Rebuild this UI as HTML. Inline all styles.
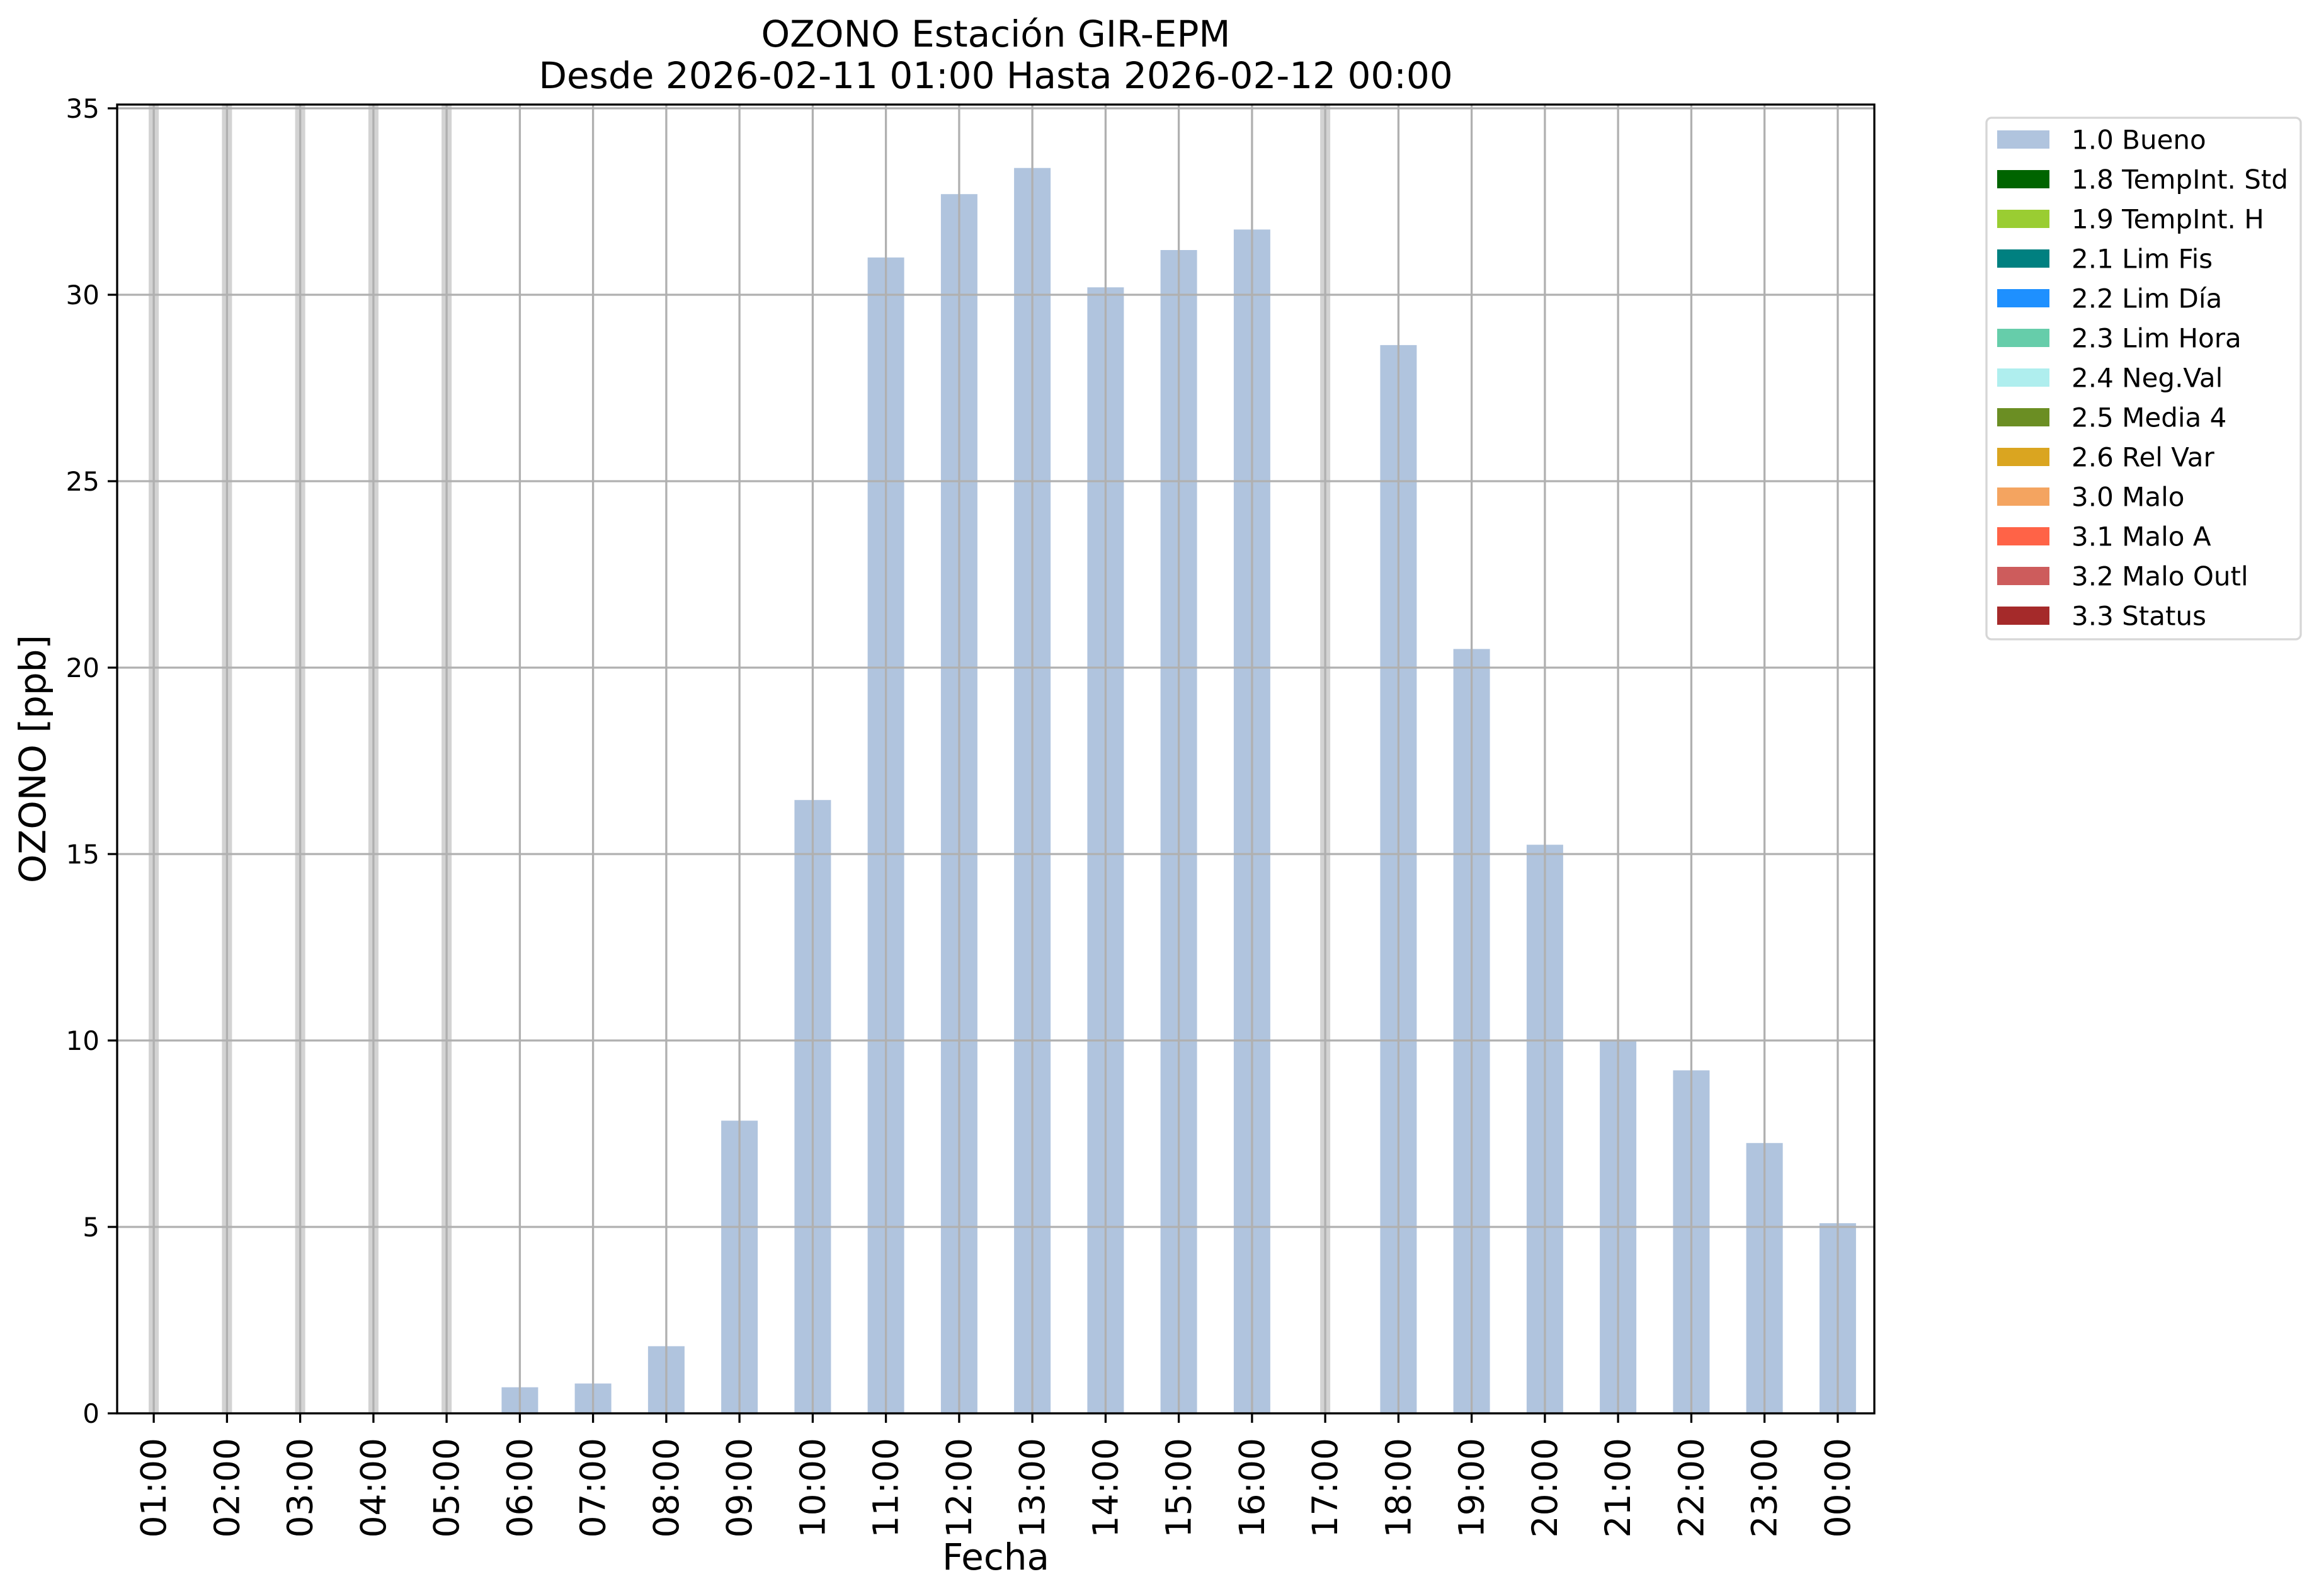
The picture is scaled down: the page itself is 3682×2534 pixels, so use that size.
<!DOCTYPE html>
<html><head><meta charset="utf-8"><style>html,body{margin:0;padding:0;background:#fff}svg{display:block}text{font-family:"DejaVu Sans","Liberation Sans",sans-serif;fill:#000}</style></head><body>
<svg width="3682" height="2534" viewBox="0 0 3682 2534" xmlns="http://www.w3.org/2000/svg">
<rect width="3682" height="2534" fill="#fff"/>
<text x="1581" y="74" font-size="58" text-anchor="middle">OZONO Estación GIR-EPM</text>
<text x="1581" y="140" font-size="58" text-anchor="middle">Desde 2026-02-11 01:00 Hasta 2026-02-12 00:00</text>
<g fill="#d3d3d3">
<rect x="236.1" y="166" width="16" height="2078"/>
<rect x="352.4" y="166" width="16" height="2078"/>
<rect x="468.6" y="166" width="16" height="2078"/>
<rect x="584.9" y="166" width="16" height="2078"/>
<rect x="701.1" y="166" width="16" height="2078"/>
<rect x="2096.1" y="166" width="16" height="2078"/>
</g>
<g fill="#b0c4de">
<rect x="796.4" y="2202.6" width="58" height="41.4"/>
<rect x="912.6" y="2196.6" width="58" height="47.4"/>
<rect x="1028.9" y="2137.4" width="58" height="106.6"/>
<rect x="1145.1" y="1779.3" width="58" height="464.7"/>
<rect x="1261.4" y="1270.2" width="58" height="973.8"/>
<rect x="1377.6" y="408.8" width="58" height="1835.2"/>
<rect x="1493.9" y="308.2" width="58" height="1935.8"/>
<rect x="1610.1" y="266.7" width="58" height="1977.3"/>
<rect x="1726.4" y="456.2" width="58" height="1787.8"/>
<rect x="1842.6" y="397.0" width="58" height="1847.0"/>
<rect x="1958.9" y="364.4" width="58" height="1879.6"/>
<rect x="2191.4" y="547.9" width="58" height="1696.1"/>
<rect x="2307.6" y="1030.4" width="58" height="1213.6"/>
<rect x="2423.9" y="1341.2" width="58" height="902.8"/>
<rect x="2540.1" y="1652.0" width="58" height="592.0"/>
<rect x="2656.4" y="1699.4" width="58" height="544.6"/>
<rect x="2772.6" y="1814.8" width="58" height="429.2"/>
<rect x="2888.9" y="1942.1" width="58" height="301.9"/>
</g>
<path stroke="#b0b0b0" stroke-width="3.3" fill="none" d="M186 2244H2976M186 1948H2976M186 1652H2976M186 1356H2976M186 1060H2976M186 764H2976M186 468H2976M186 172H2976
M244.1 166V2244M360.4 166V2244M476.6 166V2244M592.9 166V2244M709.1 166V2244M825.4 166V2244M941.6 166V2244M1057.9 166V2244M1174.1 166V2244M1290.4 166V2244M1406.6 166V2244M1522.9 166V2244M1639.1 166V2244M1755.4 166V2244M1871.6 166V2244M1987.9 166V2244M2104.1 166V2244M2220.4 166V2244M2336.6 166V2244M2452.9 166V2244M2569.1 166V2244M2685.4 166V2244M2801.6 166V2244M2917.9 166V2244"/>
<path stroke="#000" stroke-width="3.3" fill="none" d="M171 2244H186M171 1948H186M171 1652H186M171 1356H186M171 1060H186M171 764H186M171 468H186M171 172H186
M244.1 2244v15M360.4 2244v15M476.6 2244v15M592.9 2244v15M709.1 2244v15M825.4 2244v15M941.6 2244v15M1057.9 2244v15M1174.1 2244v15M1290.4 2244v15M1406.6 2244v15M1522.9 2244v15M1639.1 2244v15M1755.4 2244v15M1871.6 2244v15M1987.9 2244v15M2104.1 2244v15M2220.4 2244v15M2336.6 2244v15M2452.9 2244v15M2569.1 2244v15M2685.4 2244v15M2801.6 2244v15M2917.9 2244v15"/>
<rect x="186" y="166" width="2790" height="2078" fill="none" stroke="#000" stroke-width="3.3"/>
<g font-size="42" text-anchor="end">
<text x="158" y="2259">0</text><text x="158" y="1963">5</text><text x="158" y="1667">10</text><text x="158" y="1371">15</text><text x="158" y="1075">20</text><text x="158" y="779">25</text><text x="158" y="483">30</text><text x="158" y="187">35</text>
</g>
<g font-size="55" text-anchor="end">
<text transform="translate(263.1,2283) rotate(-90)">01:00</text>
<text transform="translate(379.4,2283) rotate(-90)">02:00</text>
<text transform="translate(495.6,2283) rotate(-90)">03:00</text>
<text transform="translate(611.9,2283) rotate(-90)">04:00</text>
<text transform="translate(728.1,2283) rotate(-90)">05:00</text>
<text transform="translate(844.4,2283) rotate(-90)">06:00</text>
<text transform="translate(960.6,2283) rotate(-90)">07:00</text>
<text transform="translate(1076.9,2283) rotate(-90)">08:00</text>
<text transform="translate(1193.1,2283) rotate(-90)">09:00</text>
<text transform="translate(1309.4,2283) rotate(-90)">10:00</text>
<text transform="translate(1425.6,2283) rotate(-90)">11:00</text>
<text transform="translate(1541.9,2283) rotate(-90)">12:00</text>
<text transform="translate(1658.1,2283) rotate(-90)">13:00</text>
<text transform="translate(1774.4,2283) rotate(-90)">14:00</text>
<text transform="translate(1890.6,2283) rotate(-90)">15:00</text>
<text transform="translate(2006.9,2283) rotate(-90)">16:00</text>
<text transform="translate(2123.1,2283) rotate(-90)">17:00</text>
<text transform="translate(2239.4,2283) rotate(-90)">18:00</text>
<text transform="translate(2355.6,2283) rotate(-90)">19:00</text>
<text transform="translate(2471.9,2283) rotate(-90)">20:00</text>
<text transform="translate(2588.1,2283) rotate(-90)">21:00</text>
<text transform="translate(2704.4,2283) rotate(-90)">22:00</text>
<text transform="translate(2820.6,2283) rotate(-90)">23:00</text>
<text transform="translate(2936.9,2283) rotate(-90)">00:00</text>
</g>
<text x="1581" y="2492" font-size="58" text-anchor="middle">Fecha</text>
<text transform="translate(72,1205) rotate(-90)" font-size="58" text-anchor="middle">OZONO [ppb]</text>
<rect x="3154" y="187" width="499" height="828" rx="8" fill="#fff" stroke="#d6d6d6" stroke-width="3.3"/>
<rect x="3171" y="207" width="83" height="29" fill="#b0c4de"/>
<rect x="3171" y="270" width="83" height="29" fill="#006400"/>
<rect x="3171" y="333" width="83" height="29" fill="#9acd32"/>
<rect x="3171" y="396" width="83" height="29" fill="#008080"/>
<rect x="3171" y="459" width="83" height="29" fill="#1e90ff"/>
<rect x="3171" y="522" width="83" height="29" fill="#66cdaa"/>
<rect x="3171" y="585" width="83" height="29" fill="#afeeee"/>
<rect x="3171" y="648" width="83" height="29" fill="#6b8e23"/>
<rect x="3171" y="711" width="83" height="29" fill="#daa520"/>
<rect x="3171" y="774" width="83" height="29" fill="#f4a460"/>
<rect x="3171" y="837" width="83" height="29" fill="#ff6347"/>
<rect x="3171" y="900" width="83" height="29" fill="#cd5c5c"/>
<rect x="3171" y="963" width="83" height="29" fill="#a52a2a"/>
<g font-size="42">
<text x="3289" y="236.5">1.0 Bueno</text>
<text x="3289" y="299.5">1.8 TempInt. Std</text>
<text x="3289" y="362.5">1.9 TempInt. H</text>
<text x="3289" y="425.5">2.1 Lim Fis</text>
<text x="3289" y="488.5">2.2 Lim Día</text>
<text x="3289" y="551.5">2.3 Lim Hora</text>
<text x="3289" y="614.5">2.4 Neg.Val</text>
<text x="3289" y="677.5">2.5 Media 4</text>
<text x="3289" y="740.5">2.6 Rel Var</text>
<text x="3289" y="803.5">3.0 Malo</text>
<text x="3289" y="866.5">3.1 Malo A</text>
<text x="3289" y="929.5">3.2 Malo Outl</text>
<text x="3289" y="992.5">3.3 Status</text>
</g>
</svg>
</body></html>
